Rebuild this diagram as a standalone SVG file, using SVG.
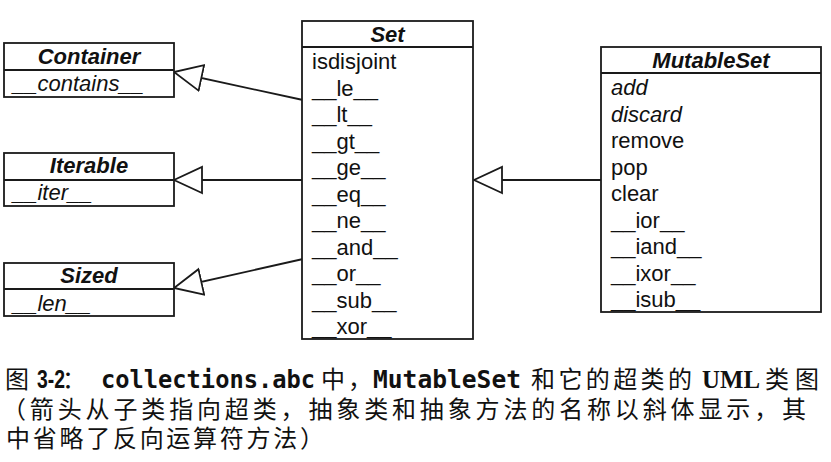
<svg xmlns="http://www.w3.org/2000/svg" width="831" height="462" viewBox="0 0 831 462">
<style>
.box{fill:#fff;stroke:#1a1a1a;stroke-width:1.8}
.div{stroke:#1a1a1a;stroke-width:1.8}
.t{font-family:"Liberation Sans",Arial,sans-serif;font-size:22px;font-weight:bold;font-style:italic;fill:#111;text-anchor:middle}
.m{font-family:"Liberation Sans",Arial,sans-serif;font-size:22px;fill:#111}
.i{font-style:italic}
.conn{stroke:#1a1a1a;stroke-width:1.8;fill:none;marker-end:url(#tri)}
.cap{font-family:"Noto Sans CJK SC",sans-serif;font-size:24px;fill:#111}
.mono{font-family:"DejaVu Sans Mono",monospace;font-weight:bold;font-size:24px;fill:#111}
.bsans{font-family:"Liberation Sans",Arial,sans-serif;font-weight:bold;font-size:25px;fill:#111}
.bs{font-family:"Liberation Serif",serif;font-weight:bold;font-size:25px;fill:#111}
</style>
<defs>
<marker id="tri" markerUnits="userSpaceOnUse" markerWidth="30" markerHeight="30" viewBox="-1 -15 30 30" refX="28" refY="0" orient="auto">
<path d="M0,-13 L28,0 L0,13 Z" fill="#fff" stroke="#1a1a1a" stroke-width="1.8" stroke-linejoin="miter"/>
</marker>
</defs>
<rect width="831" height="462" fill="#fff"/>
<g id="connectors">
<line class="conn" x1="303" y1="100" x2="174" y2="72"/>
<line class="conn" x1="303" y1="180" x2="174" y2="180"/>
<line class="conn" x1="303" y1="259" x2="174" y2="288"/>
<line class="conn" x1="601" y1="180" x2="474" y2="180"/>
</g>
<g id="container">
<rect class="box" x="4" y="43" width="170" height="54"/>
<line class="div" x1="4" y1="70" x2="174" y2="70"/>
<text class="t" x="89" y="64">Container</text>
<text class="m i" x="13" y="91">__contains__</text>
</g>
<g id="iterable">
<rect class="box" x="4" y="153" width="170" height="53"/>
<line class="div" x1="4" y1="180" x2="174" y2="180"/>
<text class="t" x="89" y="173">Iterable</text>
<text class="m i" x="13" y="200">__iter__</text>
</g>
<g id="sized">
<rect class="box" x="4" y="263" width="170" height="53"/>
<line class="div" x1="4" y1="289" x2="174" y2="289"/>
<text class="t" x="89" y="283">Sized</text>
<text class="m i" x="13" y="311">__len__</text>
</g>
<g id="set">
<rect class="box" x="302" y="21" width="171" height="318"/>
<line class="div" x1="302" y1="47" x2="473" y2="47"/>
<text class="t" x="387.5" y="42">Set</text>
<text class="m" x="312" y="69">isdisjoint</text>
<text class="m" x="312" y="95.5">__le__</text>
<text class="m" x="312" y="122">__lt__</text>
<text class="m" x="312" y="148.5">__gt__</text>
<text class="m" x="312" y="175">__ge__</text>
<text class="m" x="312" y="201.5">__eq__</text>
<text class="m" x="312" y="228">__ne__</text>
<text class="m" x="312" y="254.5">__and__</text>
<text class="m" x="312" y="281">__or__</text>
<text class="m" x="312" y="307.5">__sub__</text>
<text class="m" x="312" y="334">__xor__</text>
</g>
<g id="mutableset">
<rect class="box" x="601" y="47" width="220" height="265"/>
<line class="div" x1="601" y1="73" x2="821" y2="73"/>
<text class="t" x="711" y="68">MutableSet</text>
<text class="m i" x="611" y="95">add</text>
<text class="m i" x="611" y="121.5">discard</text>
<text class="m" x="611" y="148">remove</text>
<text class="m" x="611" y="174.5">pop</text>
<text class="m" x="611" y="201">clear</text>
<text class="m" x="611" y="227.5">__ior__</text>
<text class="m" x="611" y="254">__iand__</text>
<text class="m" x="611" y="280.5">__ixor__</text>
<text class="m" x="611" y="307">__isub__</text>
</g>
<g id="caption">
<text class="cap" x="5" y="388">图</text>
<text class="bsans" x="37" y="388" textLength="28" lengthAdjust="spacingAndGlyphs">3-2</text>
<text class="cap" x="62" y="388">：</text>
<text class="mono" x="101" y="388" textLength="214" lengthAdjust="spacingAndGlyphs">collections.abc</text>
<text class="cap" x="321" y="388">中</text>
<text class="cap" x="348" y="388">，</text>
<text class="mono" x="373" y="388" textLength="148" lengthAdjust="spacingAndGlyphs">MutableSet</text>
<text class="cap" x="531" y="388" textLength="161" lengthAdjust="spacing">和它的超类的</text>
<text class="bs" x="702" y="388" textLength="58" lengthAdjust="spacingAndGlyphs">UML</text>
<text class="cap" x="765" y="388" textLength="54" lengthAdjust="spacing">类图</text>
<text class="cap" x="2" y="418" textLength="804" lengthAdjust="spacing">（箭头从子类指向超类，抽象类和抽象方法的名称以斜体显示，其</text>
<text class="cap" x="6" y="447" textLength="318" lengthAdjust="spacing">中省略了反向运算符方法）</text>
</g>
</svg>
